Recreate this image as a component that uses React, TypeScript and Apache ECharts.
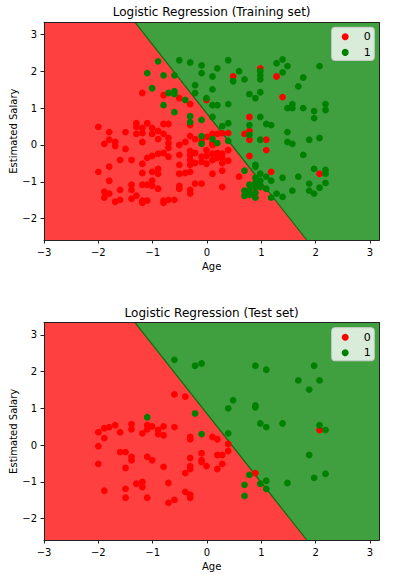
import React, { useEffect, useRef } from 'react';
import * as echarts from 'echarts';

const xRange = [-3, 3.17];
const yRange = [-2.58, 3.33];
const xTicks = [-3, -2, -1, 0, 1, 2, 3];
const yTicks = [-2, -1, 0, 1, 2, 3];
const boundary = [[-1.325, 3.33], [1.835, -2.58]];
const classNames = ['0', '1'];
const titles = ['Logistic Regression (Training set)', 'Logistic Regression (Test set)'];

const trainClass0 = [
  [-1.19,1.41],[-0.80,1.35],[-0.51,1.27],[-0.31,1.11],[-0.01,1.22],
  [-2.00,0.49],[-1.80,0.35],[-1.50,0.35],[-1.30,0.59],[-1.30,0.49],[-1.10,0.59],[-1.19,0.46],[-1.01,0.46],[-0.80,0.57],[-0.71,0.57],[-0.31,0.54],[-0.90,0.38],
  [0.48,1.86],[0.98,2.08],[1.28,1.86],[1.39,1.30],[0.78,0.76],[0.78,0.38],[0.69,0.30],[0.39,0.32],[0.28,0.32],
  [-1.30,0.30],[-1.19,0.32],[-1.01,0.30],[-0.80,0.30],[-0.71,0.19],[-0.71,0.05],[-0.71,-0.08],[-0.71,-0.32],[-0.90,0.16],[-1.19,0.08],[-1.89,0.03],[-1.80,0.14],[-1.69,0.08],[-1.69,-0.03],[-1.50,-0.11],
  [-0.51,0.00],[-0.40,0.08],[-0.31,0.24],[-0.31,-0.16],[-0.31,-0.27],[-0.31,-0.41],[-0.31,-0.54],[-0.22,-0.22],[-0.22,-0.49],[-0.10,-0.32],[-0.10,-0.46],[-0.01,-0.14],[-0.01,-0.30],[-0.01,-0.51],[0.10,-0.24],[0.10,-0.41],[0.10,0.00],
  [-0.51,-0.27],[-0.51,-0.54],[-1.60,-0.41],[-1.39,-0.41],[-1.10,-0.35],[-1.01,-0.30],[-0.90,-0.24],[-0.80,-0.22],[-1.19,-0.51],[-1.80,-0.59],[-2.00,-0.73],[-1.19,-0.76],[-1.01,-0.73],[-0.90,-0.65],[-0.90,-0.78],[-0.51,-0.78],[-0.40,-0.76],[-0.31,-0.73],[0.10,-0.78],
  [-1.80,-0.97],[-1.39,-1.08],[-1.39,-1.22],[-1.19,-1.08],[-1.10,-1.08],[-1.01,-0.97],[-1.01,-1.11],[-0.90,-1.19],[-0.51,-1.11],[-0.51,-1.19],[-0.22,-1.05],[-0.10,-1.05],[-0.31,-1.22],[-0.31,-1.32],[-1.60,-1.22],[-1.89,-1.27],[-1.80,-1.32],[-1.89,-1.43],[-1.30,-1.38],[-1.39,-1.46],[-1.60,-1.49],[-1.69,-1.54],[-1.19,-1.51],[-1.19,-1.57],[-1.10,-1.51],[-0.80,-1.51],[-0.80,-1.57],[-0.71,-1.49],[-0.60,-1.49],
  [0.10,0.30],[0.19,0.30],[0.78,0.14],[1.09,0.14],[1.09,-0.14],[0.19,-0.22],[0.28,-0.24],[0.19,-0.35],[0.28,-0.35],[0.39,-0.14],[0.39,-0.43],[0.28,-0.49],[0.78,-0.30],[0.28,-0.70],[0.59,-0.86],[0.28,-1.14],[1.18,-0.73],[2.07,-0.78],[0.78,-1.35],[0.10,0.05],
  [-0.22,0.16],[-0.10,0.11],[0.00,0.22],
];

const trainClass1 = [
  [-0.90,2.27],[-0.51,2.30],[-0.31,2.24],[-0.10,2.16],[-1.10,1.95],[-0.80,1.89],[-0.60,1.89],[-0.10,1.95],[0.10,1.86],[-0.22,1.62],[-1.01,1.54],[-0.71,1.41],[-0.60,1.46],[-0.60,1.38],[-0.22,1.41],[-0.40,1.22],[-0.01,1.27],[0.10,1.51],[-0.80,1.08],[-0.60,0.89],[-0.31,0.78],[-0.31,0.62],[-0.10,0.68],[0.10,0.76],
  [0.39,2.30],[0.19,2.08],[0.59,2.00],[0.69,1.78],[0.48,1.73],[0.98,2.00],[0.98,1.89],[0.98,1.78],[1.28,2.22],[1.39,2.32],[1.48,2.14],[1.39,1.97],[2.07,2.14],[1.77,1.83],[1.68,1.59],[0.78,1.38],[0.89,1.27],[0.98,1.43],[0.10,1.08],[0.19,1.08],[0.39,1.11],[1.48,1.00],[1.57,1.11],[1.57,1.00],[1.77,1.00],[1.97,0.92],[2.18,1.11],[2.18,0.95],[1.97,0.73],[0.98,0.76],[1.09,0.57],[1.18,0.54],[1.48,0.35],[0.39,0.59],[0.28,0.51],[0.78,0.54],
  [-0.10,0.24],[-0.10,0.03],[0.10,0.16],
  [0.78,0.27],[0.19,0.05],[0.39,0.11],[0.98,0.14],[1.48,0.08],[1.57,0.03],[1.88,0.14],[2.07,0.19],[1.77,-0.27],[0.89,-0.54],[0.89,-0.59],[0.69,-0.70],[0.98,-0.78],[1.09,-0.86],[1.18,-0.97],
  [0.89,-0.89],[0.98,-0.97],[0.89,-1.03],[0.78,-1.08],[0.69,-1.24],[0.78,-1.22],[0.69,-1.38],[0.89,-1.14],[0.98,-1.14],[1.09,-1.19],[0.89,-1.30],[0.89,-1.43],[0.78,-1.35],
  [1.39,-0.89],[1.68,-0.86],[1.97,-0.65],[2.18,-0.68],[2.18,-0.78],[1.88,-1.05],[2.18,-1.03],[2.07,-1.16],[1.88,-1.24],[1.97,-1.32],[1.57,-1.24],[1.28,-1.32],[1.18,-1.43],[1.39,-1.41],
];

const testClass0 = [
  [-0.60,1.38],[-0.40,1.32],[-2.00,0.35],[-1.89,0.46],[-1.80,0.49],[-1.69,0.54],[-1.39,0.57],[-1.39,0.43],[-1.10,0.54],[-1.10,0.43],[-1.01,0.51],[-0.80,0.51],[-0.60,0.49],[-1.60,0.35],[-1.19,0.32],[-0.90,0.41],[-0.90,0.30],
  [2.07,0.41],
  [-1.89,0.19],[-0.80,0.27],[-0.31,0.22],[-0.31,0.16],[0.10,0.22],[-2.00,-0.03],[-1.60,-0.19],[-1.50,-0.19],[-1.39,-0.32],[-1.39,-0.41],[-1.10,-0.32],[-1.01,-0.41],[-0.31,-0.35],[-0.10,-0.22],[-0.10,-0.41],[-0.10,-0.46],[-0.01,-0.57],
  [-2.00,-0.51],[-1.50,-0.62],[-0.80,-0.59],[-0.31,-0.57],[-0.31,-0.65],[-0.40,-0.76],[-1.30,-1.05],[-1.19,-1.00],[-1.19,-1.14],[-0.71,-1.03],[-1.89,-1.24],[-1.50,-1.19],[-0.40,-1.27],[-0.31,-1.35],[-0.31,-1.43],[-1.50,-1.43],[-1.10,-1.43],[-0.71,-1.57],[-0.60,-1.49],
  [0.19,0.16],[0.39,0.03],[0.39,-0.16],[0.19,-0.27],[0.28,-0.27],[0.28,-0.51],[0.19,-0.65],[0.89,-0.76],
];

const testClass1 = [
  [-0.60,2.32],[-0.22,2.16],[-0.10,2.22],[-1.10,0.76],[-0.22,0.86],[-0.10,0.30],
  [0.89,2.16],[1.09,2.05],[1.97,2.16],[1.68,1.76],[2.07,1.76],[1.88,1.51],[0.48,1.22],[0.39,1.00],[0.89,1.08],[0.89,1.03],[0.98,0.59],[1.09,0.49],[1.39,0.59],[2.07,0.54],[2.18,0.41],[0.39,0.32],
  [1.88,-0.27],[2.18,-0.78],[1.97,-0.89],[0.78,-0.81],[0.69,-1.08],[0.69,-1.38],[0.98,-1.05],[1.09,-0.97],[1.09,-1.19],[1.48,-1.03],
];

const regionColors = ['#ff4040', '#40a040'];
const pointColors = ['#ff0000', '#008000'];
const FONT = 'DejaVu Sans';

const fmt = (v: number) => String(v).replace('-', '\u2212');

export default function App() {
  const ref = useRef<HTMLDivElement>(null);
  useEffect(() => {
    if (!ref.current) return;
    const chart = echarts.init(ref.current, null, { renderer: 'svg' });
    const grids = [
      { left: 44, top: 22.3, width: 335.3, height: 217.7, outerBoundsMode: 'none', containLabel: false },
      { left: 44, top: 322.7, width: 335.3, height: 217.3, outerBoundsMode: 'none', containLabel: false },
    ];
    const datasets = [
      [trainClass0, trainClass1],
      [testClass0, testClass1],
    ];
    const axisLine = { show: true, onZero: false, lineStyle: { color: '#222', width: 1 } };
    const xAxis: any[] = [];
    const yAxis: any[] = [];
    const series: any[] = [];
    const legend: any[] = [];
    grids.forEach((g, gi) => {
      xAxis.push({
        type: 'value', gridIndex: gi, min: xRange[0], max: xRange[1], position: 'bottom', z: 5,
        axisLine, splitLine: { show: false },
        axisTick: { show: true, length: 3.5, lineStyle: { color: '#222' }, customValues: xTicks },
        axisLabel: { show: true, margin: 7, fontFamily: FONT, fontSize: 10, color: '#000', customValues: xTicks, formatter: fmt },
        name: 'Age', nameLocation: 'middle', nameGap: 21, nameMoveOverlap: false,
        nameTextStyle: { fontFamily: FONT, fontSize: 10, color: '#000' },
      });
      xAxis.push({
        type: 'value', gridIndex: gi, min: xRange[0], max: xRange[1], position: 'top', z: 5,
        axisLine, splitLine: { show: false }, axisTick: { show: false }, axisLabel: { show: false },
        name: titles[gi], nameLocation: 'middle', nameGap: 4, nameMoveOverlap: false,
        nameTextStyle: { fontFamily: FONT, fontSize: 12, color: '#000' },
      });
      yAxis.push({
        type: 'value', gridIndex: gi, min: yRange[0], max: yRange[1], position: 'left', z: 5,
        axisLine, splitLine: { show: false },
        axisTick: { show: true, length: 3.5, lineStyle: { color: '#222' }, customValues: yTicks },
        axisLabel: { show: true, margin: 7, fontFamily: FONT, fontSize: 10, color: '#000', customValues: yTicks, formatter: fmt },
        name: 'Estimated Salary', nameLocation: 'middle', nameGap: 26, nameRotate: 90, nameMoveOverlap: false,
        nameTextStyle: { fontFamily: FONT, fontSize: 10, color: '#000' },
      });
      yAxis.push({
        type: 'value', gridIndex: gi, min: yRange[0], max: yRange[1], position: 'right', z: 5,
        axisLine, splitLine: { show: false }, axisTick: { show: false }, axisLabel: { show: false },
      });
      const xi = gi * 2;
      const yi = gi * 2;
      series.push({
        type: 'custom', xAxisIndex: xi, yAxisIndex: yi, data: [[0, 0]], silent: true, z: 1,
        renderItem: (_p: any, api: any) => {
          const p = (x: number, y: number) => api.coord([x, y]);
          const [b0, b1] = boundary;
          return {
            type: 'group',
            children: [
              { type: 'polygon', shape: { points: [p(xRange[0], yRange[1]), p(b0[0], b0[1]), p(b1[0], b1[1]), p(xRange[0], yRange[0])] }, style: { fill: regionColors[0] } },
              { type: 'polygon', shape: { points: [p(b0[0], b0[1]), p(xRange[1], yRange[1]), p(xRange[1], yRange[0]), p(b1[0], b1[1])] }, style: { fill: regionColors[1] } },
              { type: 'polyline', shape: { points: [p(b0[0], b0[1]), p(b1[0], b1[1])] }, style: { stroke: '#0c6a0c', lineWidth: 1.2, fill: null } },
            ],
          };
        },
      });
      datasets[gi].forEach((d, ci) => {
        series.push({
          type: 'scatter', name: classNames[ci], xAxisIndex: xi, yAxisIndex: yi, z: 2,
          data: d, symbol: 'circle', symbolSize: 6.8,
          itemStyle: { color: pointColors[ci], opacity: 1 },
          emphasis: { disabled: true },
        });
      });
      legend.push({
        orient: 'vertical', left: 331.7, top: g.top + 5,
        data: classNames.map((n) => ({ name: n, icon: 'circle' })),
        itemWidth: 7, itemHeight: 7, itemGap: 3.6,
        padding: [3.5, 3.6, 2, 10],
        backgroundColor: 'rgba(255,255,255,0.8)', borderColor: '#cccccc', borderWidth: 1, borderRadius: 3,
        textStyle: { fontFamily: FONT, fontSize: 11, color: '#000', padding: [0, 0, 0, 10], lineHeight: 12 },
        selectedMode: false,
      });
    });
    chart.setOption({
      animation: false,
      backgroundColor: '#ffffff',
      grid: grids,
      xAxis,
      yAxis,
      legend,
      series,
    });
    return () => chart.dispose();
  }, []);
  return <div ref={ref} style={{ position: 'fixed', left: 0, top: 0, width: 396, height: 577 }} />;
}
